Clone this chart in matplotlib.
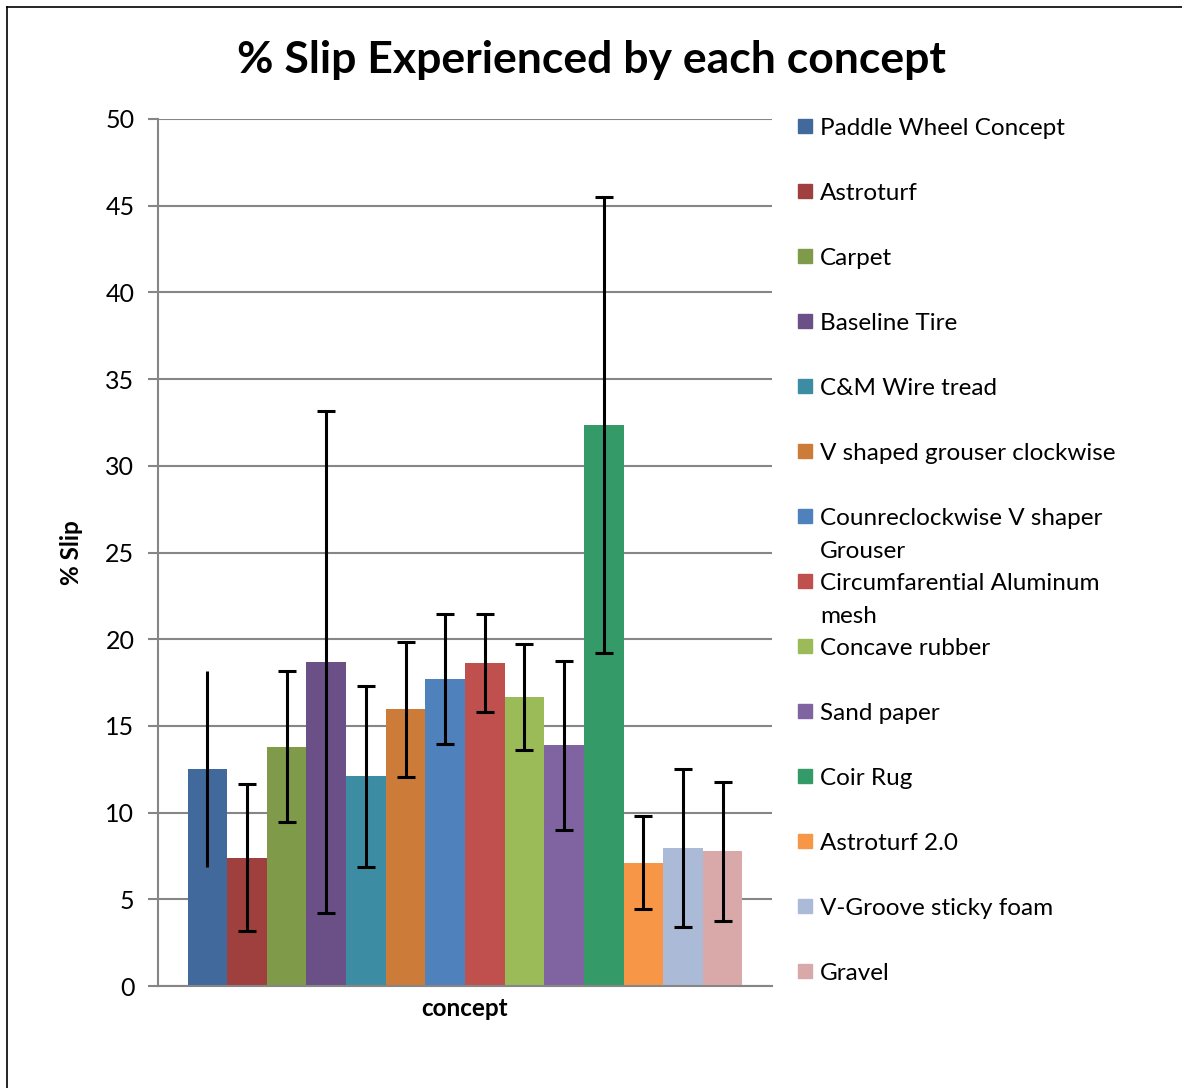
import numpy as np
import matplotlib
matplotlib.use("Agg")
import matplotlib.pyplot as plt
from matplotlib.patches import Rectangle
from matplotlib.lines import Line2D

plt.rcParams['font.family'] = ['Lato', 'DejaVu Sans']

names = ["Paddle Wheel Concept", "Astroturf", "Carpet", "Baseline Tire",
         "C&M Wire tread", "V shaped grouser clockwise",
         "Counreclockwise V shaper\nGrouser", "Circumfarential Aluminum\nmesh",
         "Concave rubber", "Sand paper", "Coir Rug", "Astroturf 2.0",
         "V-Groove sticky foam", "Gravel"]
slip = [12.5, 7.4, 13.8, 18.7, 12.1, 15.95, 17.7, 18.65, 16.65, 13.88, 32.33, 7.12, 7.97, 7.76]
err = [5.66, 4.25, 4.37, 14.48, 5.22, 3.87, 3.75, 2.83, 3.06, 4.89, 13.15, 2.68, 4.57, 4.03]
colors = ["#41699C", "#9F403E", "#7F9A48", "#6A5086", "#3C8DA3", "#CD7B38", "#4F81BD",
          "#C0504D", "#9BBB59", "#8064A2", "#349A68", "#F79646", "#AABAD7", "#D9A9A9"]

W, H = 1182, 1088
fig = plt.figure(figsize=(W / 100, H / 100), dpi=100)

def fx(px):
    return px / W

def fy(py):
    return 1 - py / H

ax = fig.add_axes([fx(158), fy(986), fx(772) - fx(158), fy(119) - fy(986)])
x = np.arange(len(slip))
ax.bar(x, slip, width=1.0, color=colors, zorder=2)
# first bar's error bar is drawn without caps in the original
ax.errorbar(x[:1], slip[:1], yerr=err[:1], fmt='none', ecolor='black',
            elinewidth=2.2, capsize=0, zorder=3)
ax.errorbar(x[1:], slip[1:], yerr=err[1:], fmt='none', ecolor='black',
            elinewidth=2.2, capsize=6.5, capthick=2.2, zorder=3)

ax.set_xlim(-1.245, len(slip) - 1 + 1.245)
ax.set_ylim(0, 50)
ax.set_yticks(range(0, 51, 5))
ax.set_xticks([])
ax.yaxis.grid(True, color='#868686', linewidth=1.5, zorder=0)
for s in ['top', 'right']:
    ax.spines[s].set_visible(False)
for s in ['left', 'bottom']:
    ax.spines[s].set_color('#868686')
    ax.spines[s].set_linewidth(1.5)
ax.tick_params(axis='y', length=7, width=1.5, color='#868686', labelsize=18, pad=10)
ax.set_ylabel("% Slip", fontsize=17.5, fontweight='bold', labelpad=16)
ax.set_xlabel("concept", fontsize=17.5, fontweight='bold', labelpad=8)

fig.text(0.5, fy(60), "% Slip Experienced by each concept", ha='center', va='center',
         fontsize=32, fontweight='bold')

# legend, laid out like the original (first line of each entry 65 px apart)
for i, (name, c) in enumerate(zip(names, colors)):
    yc = 126 + 65 * i
    fig.patches.append(Rectangle((fx(798), fy(yc + 7)), fx(14), 14 / H, color=c,
                                 transform=fig.transFigure, figure=fig))
    for k, line in enumerate(name.split("\n")):
        fig.text(fx(820), fy(yc + 9 + 33 * k), line, ha='left', va='baseline',
                 fontsize=17.5)

# outer frame
fig.add_artist(Line2D([fx(7), fx(7)], [fy(7), 0], color='black', linewidth=1.2,
                      transform=fig.transFigure))
fig.add_artist(Line2D([fx(7), 1], [fy(7), fy(7)], color='black', linewidth=1.2,
                      transform=fig.transFigure))

fig.savefig("out.png", dpi=100)
